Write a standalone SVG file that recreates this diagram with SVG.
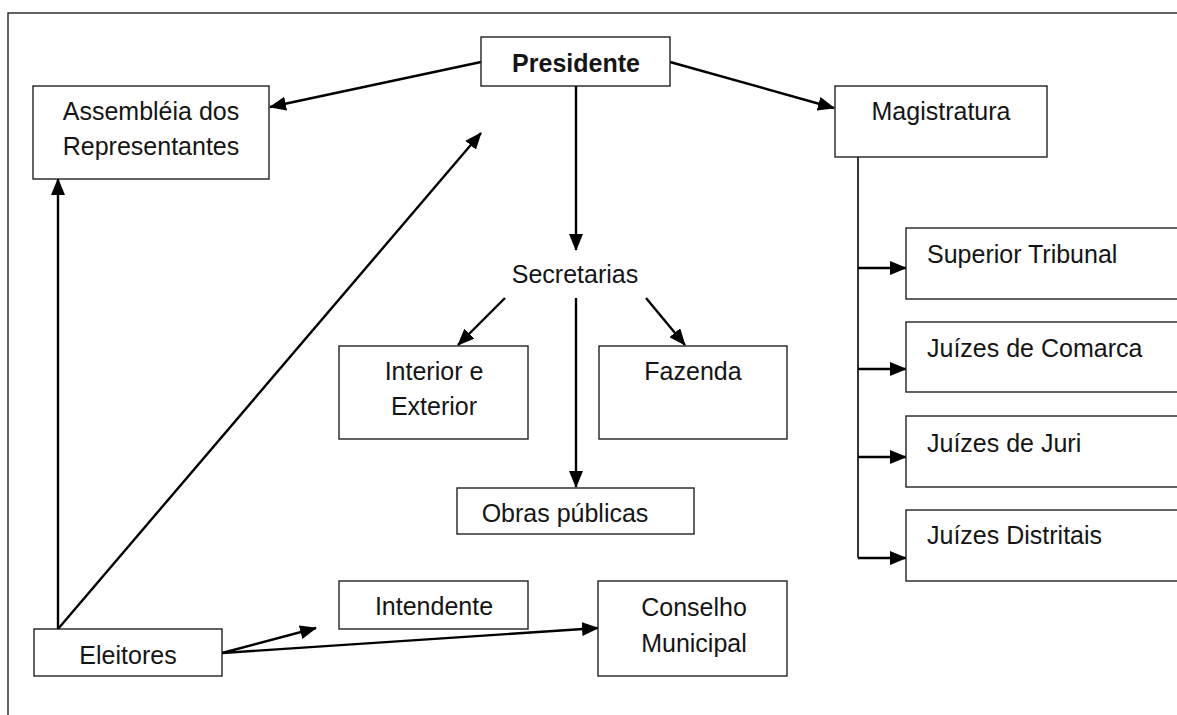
<svg xmlns="http://www.w3.org/2000/svg" width="1177" height="715" viewBox="0 0 1177 715">
<style>
.box{fill:#fff;stroke:#222;stroke-width:1.4}
.t{font-family:"Liberation Sans",Arial,sans-serif;font-size:25px;fill:#151515}
.c{text-anchor:middle}
.b{font-weight:bold}
.ln{stroke:#000;stroke-width:2.4;fill:none}
.thin{stroke:#000;stroke-width:1.6;fill:none}
</style>
<defs>
<marker id="ah" markerUnits="userSpaceOnUse" markerWidth="17" markerHeight="14" refX="16" refY="7" orient="auto">
<path d="M0,0 L17,7 L0,14 z" fill="#000"/>
</marker>
</defs>
<rect x="8" y="13" width="1200" height="800" fill="#fff" stroke="#222" stroke-width="1.4"/>
<g id="connectors">
<line class="ln" x1="481" y1="62" x2="270" y2="107" marker-end="url(#ah)"/>
<line class="ln" x1="670" y1="62" x2="834" y2="108" marker-end="url(#ah)"/>
<line class="ln" x1="576" y1="86" x2="576" y2="250" marker-end="url(#ah)"/>
<line class="ln" x1="58" y1="629" x2="58" y2="179" marker-end="url(#ah)"/>
<line class="ln" x1="58" y1="629" x2="481" y2="133" marker-end="url(#ah)"/>
<line class="ln" x1="505" y1="298" x2="458" y2="345" marker-end="url(#ah)"/>
<line class="ln" x1="576" y1="298" x2="576" y2="487" marker-end="url(#ah)"/>
<line class="ln" x1="646" y1="298" x2="685" y2="345" marker-end="url(#ah)"/>
<line class="ln" x1="222" y1="653" x2="316" y2="628" marker-end="url(#ah)"/>
<line class="ln" x1="222" y1="653" x2="598" y2="628" marker-end="url(#ah)"/>
<line class="thin" x1="858" y1="157" x2="858" y2="558"/>
<line class="ln" x1="858" y1="268" x2="906" y2="268" marker-end="url(#ah)"/>
<line class="ln" x1="858" y1="369" x2="906" y2="369" marker-end="url(#ah)"/>
<line class="ln" x1="858" y1="457" x2="906" y2="457" marker-end="url(#ah)"/>
<line class="ln" x1="858" y1="558" x2="906" y2="558" marker-end="url(#ah)"/>
</g>
<g id="presidente">
<rect class="box" x="481" y="37" width="189" height="49"/>
<text class="t c b" x="576" y="72">Presidente</text>
</g>
<g id="assembleia">
<rect class="box" x="33" y="86" width="236" height="93"/>
<text class="t c" x="151" y="120">Assembléia dos</text>
<text class="t c" x="151" y="155">Representantes</text>
</g>
<g id="magistratura">
<rect class="box" x="835" y="86" width="212" height="71"/>
<text class="t c" x="941" y="120">Magistratura</text>
</g>
<g id="secretarias">
<text class="t c" x="575" y="283">Secretarias</text>
</g>
<g id="interior">
<rect class="box" x="339" y="346" width="189" height="93"/>
<text class="t c" x="434" y="380">Interior e</text>
<text class="t c" x="434" y="415">Exterior</text>
</g>
<g id="fazenda">
<rect class="box" x="599" y="346" width="188" height="93"/>
<text class="t c" x="693" y="380">Fazenda</text>
</g>
<g id="obras">
<rect class="box" x="457" y="488" width="237" height="46"/>
<text class="t c" x="565" y="522">Obras públicas</text>
</g>
<g id="superior">
<rect class="box" x="906" y="228" width="300" height="71"/>
<text class="t" x="927" y="263">Superior Tribunal</text>
</g>
<g id="comarca">
<rect class="box" x="906" y="322" width="300" height="70"/>
<text class="t" x="927" y="357">Juízes de Comarca</text>
</g>
<g id="juri">
<rect class="box" x="906" y="416" width="300" height="71"/>
<text class="t" x="927" y="452">Juízes de Juri</text>
</g>
<g id="distritais">
<rect class="box" x="906" y="510" width="300" height="71"/>
<text class="t" x="927" y="544">Juízes Distritais</text>
</g>
<g id="eleitores">
<rect class="box" x="34" y="629" width="188" height="47"/>
<text class="t c" x="128" y="664">Eleitores</text>
</g>
<g id="intendente">
<rect class="box" x="339" y="581" width="189" height="48"/>
<text class="t c" x="434" y="615">Intendente</text>
</g>
<g id="conselho">
<rect class="box" x="598" y="581" width="189" height="95"/>
<text class="t c" x="694" y="616">Conselho</text>
<text class="t c" x="694" y="652">Municipal</text>
</g>
</svg>
